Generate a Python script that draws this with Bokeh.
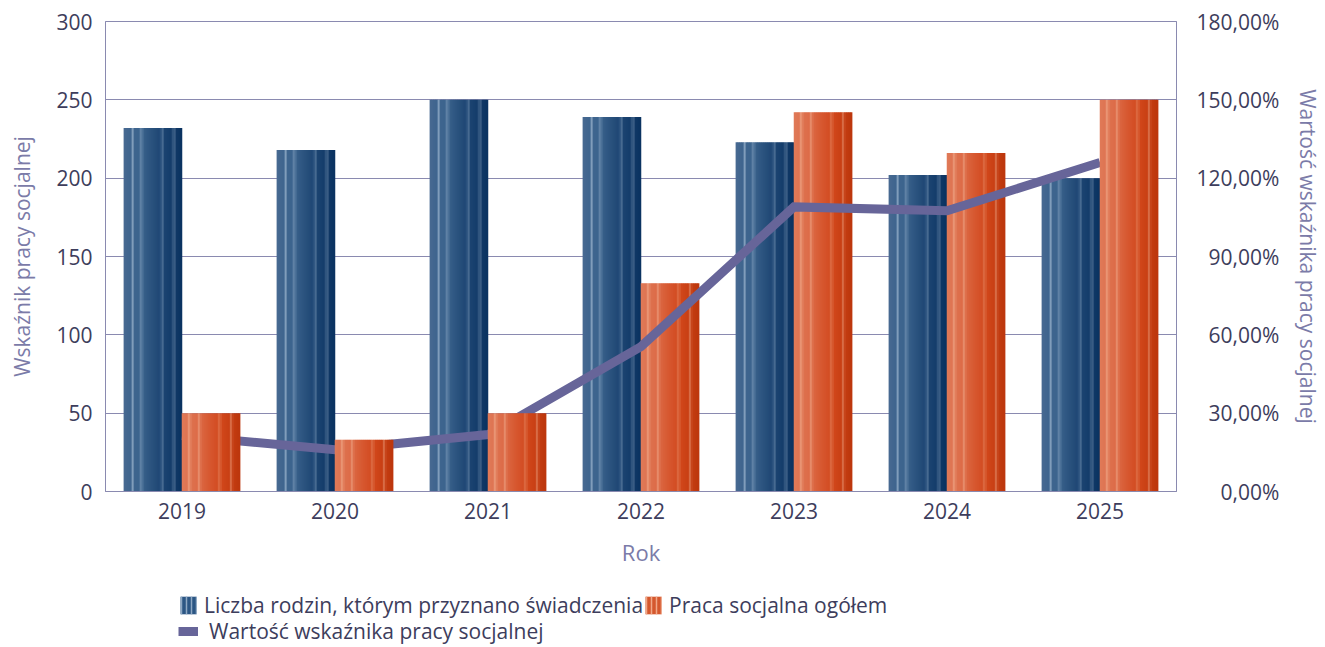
import numpy as np
from bokeh.plotting import figure
from bokeh.layouts import column
from bokeh.models import (ColumnDataSource, Range1d, LinearAxis, FixedTicker,
                          Legend, LegendItem)
from bokeh.embed import file_html
from bokeh.resources import INLINE

# ---------------- data ----------------
years = ["2019", "2020", "2021", "2022", "2023", "2024", "2025"]
families = [232, 218, 250, 239, 223, 202, 200]          # Liczba rodzin, którym przyznano świadczenia
social_work = [50, 33, 50, 133, 242, 216, 250]          # Praca socjalna ogółem
indicator_pct = [21.4, 16.0, 21.8, 55.5, 109.0, 107.5, 126.0]  # Wartość wskaźnika pracy socjalnej (%)
left_ticks = [0, 50, 100, 150, 200, 250, 300]
right_ticks = [0, 30, 60, 90, 120, 150, 180]
series_names = ["Liczba rodzin, którym przyznano świadczenia",
                "Praca socjalna ogółem",
                "Wartość wskaźnika pracy socjalnej"]

# ---------------- style ----------------
FONT = "Open Sans"
TICK_COLOR = "#3d3d5c"
TITLE_COLOR = "#7b7ba8"
GRID_COLOR = "#8a8ab0"
LINE_COLOR = "#676599"
BAR_W = 0.38
N_STRIPES = 29

BLUE_STOPS = [(0.0, (72, 106, 146)), (0.12, (62, 100, 142)), (0.3, (60, 100, 142)),
              (0.45, (45, 85, 128)), (0.6, (32, 72, 118)), (0.8, (22, 62, 108)),
              (1.0, (10, 50, 96))]
BLUE_HL = [(0.155, 0.035, 0.65), (0.305, 0.035, 0.5), (0.665, 0.035, 0.4), (0.865, 0.035, 0.45)]
BLUE_HL_RGB = (165, 188, 212)

ORANGE_STOPS = [(0.0, (224, 122, 88)), (0.3, (220, 106, 70)), (0.5, (214, 86, 46)),
                (0.7, (208, 70, 26)), (1.0, (188, 54, 12))]
ORANGE_HL = [(0.13, 0.035, 0.55), (0.30, 0.035, 0.45), (0.65, 0.035, 0.35), (0.85, 0.035, 0.4)]
ORANGE_HL_RGB = (248, 196, 168)


def stripe_colors(stops, highlights, hl_rgb, n):
    pos = [s[0] for s in stops]
    cols = []
    for k in range(n):
        t = (k + 0.5) / n
        rgb = np.array([np.interp(t, pos, [s[1][c] for s in stops]) for c in range(3)])
        for c0, hw, s in highlights:
            w = max(0.0, 1 - abs(t - c0) / hw) * s
            rgb = rgb * (1 - w) + np.array(hl_rgb) * w
        cols.append("#%02x%02x%02x" % tuple(int(round(v)) for v in rgb))
    return cols


def stripes(values, start, colors, idxs):
    sw = BAR_W / N_STRIPES
    xs, tops, cs = [], [], []
    for i in idxs:
        for k in range(N_STRIPES):
            xs.append(i + 0.5 + start + (k + 0.5) * sw)
            tops.append(values[i])
            cs.append(colors[k])
    return ColumnDataSource(dict(x=xs, top=tops, color=cs)), sw


blue_cols = stripe_colors(BLUE_STOPS, BLUE_HL, BLUE_HL_RGB, N_STRIPES)
orange_cols = stripe_colors(ORANGE_STOPS, ORANGE_HL, ORANGE_HL_RGB, N_STRIPES)

MAIN_H = 590
p = figure(width=1325, height=MAIN_H, output_backend="svg", toolbar_location=None,
           x_range=Range1d(0, len(years)), y_range=Range1d(0, 300),
           min_border_left=105, min_border_right=147, min_border_top=21,
           min_border_bottom=99, background_fill_color="white",
           border_fill_color="white", outline_line_color=GRID_COLOR)
p.extra_y_ranges = {"pct": Range1d(0, 180)}

# blue bars (stripes)
src_b, sw = stripes(families, -BAR_W, blue_cols, range(len(years)))
p.vbar(x="x", top="top", width=sw * 1.25, bottom=0, source=src_b,
       fill_color="color", line_color=None)

# orange bars that sit below the line
below_idx = [3, 4, 5]
above_idx = [i for i in range(len(years)) if i not in below_idx]
src_o1, _ = stripes(social_work, 0.0, orange_cols, below_idx)
p.vbar(x="x", top="top", width=sw * 1.25, bottom=0, source=src_o1,
       fill_color="color", line_color=None)

# indicator line
xc = [i + 0.5 for i in range(len(years))]
p.line(xc, indicator_pct, y_range_name="pct", line_color=LINE_COLOR,
       line_width=9, line_join="miter")

src_o2, _ = stripes(social_work, 0.0, orange_cols, above_idx)
p.vbar(x="x", top="top", width=sw * 1.25, bottom=0, source=src_o2,
       fill_color="color", line_color=None)

# ---------------- axes ----------------
p.xgrid.visible = False
p.ygrid.ticker = FixedTicker(ticks=left_ticks)
p.ygrid.grid_line_color = GRID_COLOR

xa = p.xaxis[0]
xa.ticker = FixedTicker(ticks=xc)
xa.major_label_overrides = {x: y for x, y in zip(xc, years)}
xa.axis_label = "Rok"

ya = p.yaxis[0]
ya.ticker = FixedTicker(ticks=left_ticks)
ya.axis_label = "Wskaźnik pracy socjalnej"

FIG_SP = "\u2007"
right_labels = {}
for t in right_ticks:
    s = ("%.2f" % t).replace(".", ",") + "%"
    ndig = len(str(int(t)))
    right_labels[t] = FIG_SP * (3 - ndig) + s
ra = LinearAxis(y_range_name="pct", ticker=FixedTicker(ticks=right_ticks),
                axis_label=series_names[2])
ra.major_label_overrides = right_labels
p.add_layout(ra, "right")

for ax in (xa, ya, ra):
    ax.axis_line_color = GRID_COLOR
    ax.major_tick_line_color = None
    ax.minor_tick_line_color = None
    ax.major_tick_out = 0
    ax.major_tick_in = 0
    ax.major_label_text_font = FONT
    ax.major_label_text_font_size = "21px"
    ax.major_label_text_color = TICK_COLOR
    ax.axis_label_text_font = FONT
    ax.axis_label_text_font_size = "21px"
    ax.axis_label_text_font_style = "normal"
    ax.axis_label_text_color = TITLE_COLOR

xa.axis_label_text_font_size = "22px"
xa.major_label_standoff = 11
xa.axis_label_standoff = 15
ya.major_label_standoff = 13
ya.axis_label_standoff = 17
ra.major_label_standoff = 20
ra.axis_label_standoff = 12

# ---------------- legend strip (separate figure under the chart) ----------------
LEG_H = 647 - MAIN_H
q = figure(width=1325, height=LEG_H, output_backend="svg", toolbar_location=None,
           x_range=Range1d(0, 1), y_range=Range1d(0, 1), x_axis_type=None,
           y_axis_type=None, min_border=0, outline_line_color=None,
           background_fill_color="white", border_fill_color="white")
q.xgrid.visible = False
q.ygrid.visible = False
# legend proxies (striped icons), outside the visible range
leg_blue = q.vbar(x=[-5], top=[0], width=0.1, fill_color="#2c5684", line_color=None,
                  hatch_pattern="|", hatch_color="#8ea8c4", hatch_scale=5, hatch_weight=1.5)
leg_orange = q.vbar(x=[-5], top=[0], width=0.1, fill_color="#d4582e", line_color=None,
                    hatch_pattern="|", hatch_color="#f0a888", hatch_scale=5, hatch_weight=1.5)
leg_line = q.line(x=[-5, -4], y=[0, 0], line_color=LINE_COLOR, line_width=9)

leg1 = Legend(items=[LegendItem(label=series_names[0], renderers=[leg_blue]),
                     LegendItem(label=series_names[1], renderers=[leg_orange])],
              orientation="horizontal", location=(73, 28))
leg2 = Legend(items=[LegendItem(label=series_names[2], renderers=[leg_line])],
              orientation="horizontal", location=(73, 2.5))
for lg, st in ((leg1, 6), (leg2, 11)):
    lg.background_fill_alpha = 0
    lg.border_line_color = None
    lg.padding = 0
    lg.margin = 0
    lg.spacing = 0
    lg.glyph_width = 20
    lg.label_standoff = st
    lg.label_text_font = FONT
    lg.label_text_font_size = "21px"
    lg.label_text_color = "#3d3d5c"
leg1.glyph_height = 22
leg1.label_height = 22
leg2.glyph_height = 20
leg2.label_height = 20
q.add_layout(leg1)
q.add_layout(leg2)

layout = column(p, q, spacing=0)
open("out.html", "w").write(file_html(layout, INLINE))
